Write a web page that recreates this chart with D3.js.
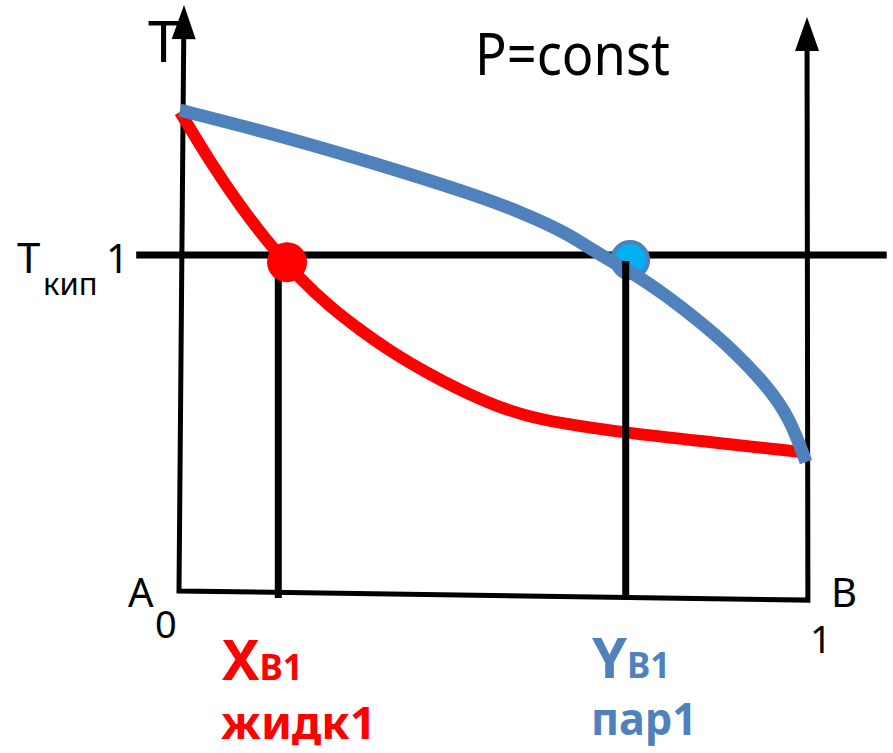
<!DOCTYPE html>
<html>
<head>
<meta charset="utf-8">
<script src="https://cdn.jsdelivr.net/npm/d3@7"></script>
<style>
  body { margin: 0; background: #fff; }
  text { font-family: "Noto Sans", "Open Sans", sans-serif; }
</style>
</head>
<body>
<svg width="893" height="753"></svg>
<script>
// mole fraction of B (0..1) vs temperature, T_kip taken as 1
var liquidCurve = [[0, 1.421], [0.048, 1.274], [0.096, 1.144], [0.144, 1.029], [0.192, 0.929],
                   [0.240, 0.847], [0.288, 0.779], [0.340, 0.712], [0.395, 0.653], [0.447, 0.603],
                   [0.500, 0.559], [0.554, 0.526], [0.607, 0.506], [0.703, 0.479], [0.831, 0.453],
                   [0.990, 0.421]];
var vaporCurve = [[0, 1.426], [0.144, 1.359], [0.304, 1.274], [0.463, 1.182], [0.548, 1.124],
                  [0.618, 1.065], [0.671, 1.0], [0.724, 0.947], [0.778, 0.879], [0.831, 0.803],
                  [0.883, 0.721], [0.938, 0.615], [0.974, 0.521], [1.0, 0.391]];
var liquidPoint = [0.171, 0.979];
var vaporPoint = [0.719, 0.985];
var tieX = [0.157, 0.712];
var boilT = 1;
var hLineRange = [-0.07, 1.129];
// the hand-drawn frame is slightly skewed
var axisFrame = [[0.0064, 1.735], [-0.0016, 0.012], [1.003, -0.015], [1.0016, 1.70]];

var svg = d3.select("svg");
var x = d3.scaleLinear().domain([0, 1]).range([180, 806]);
var y = d3.scaleLinear().domain([0, 1]).range([595, 255]);

var RED = "#ff0000", BLUE = "#4f81bd", LIGHT = "#00b0f0";

function arrowHead(tip, base) {
    var tx = x(tip[0]), ty = y(tip[1]);
    var bx = x(base[0]), by = y(base[1]);
    var dx = tx - bx, dy = ty - by, len = Math.sqrt(dx * dx + dy * dy);
    var ux = dx / len, uy = dy / len;
    var hx = tx - ux * 34, hy = ty - uy * 34;
    svg.append("path")
        .attr("d", "M" + tx + "," + ty + "L" + (hx - uy * 12) + "," + (hy + ux * 12) +
                   "L" + (hx + uy * 12) + "," + (hy - ux * 12) + "Z")
        .style("fill", "#000");
    return [hx + ux * 2, hy + uy * 2];
}

// axes
var leftBase = arrowHead(axisFrame[0], axisFrame[1]);
var rightBase = arrowHead(axisFrame[3], axisFrame[2]);
svg.append("path")
    .attr("d", "M" + leftBase[0] + "," + leftBase[1] +
               "L" + x(axisFrame[1][0]) + "," + y(axisFrame[1][1]) +
               "L" + x(axisFrame[2][0]) + "," + y(axisFrame[2][1]) +
               "L" + rightBase[0] + "," + rightBase[1])
    .style("fill", "none").style("stroke", "#000").style("stroke-width", 5)
    .style("stroke-linejoin", "miter");

// boiling temperature line
svg.append("line")
    .attr("x1", x(hLineRange[0])).attr("x2", x(hLineRange[1]))
    .attr("y1", y(boilT)).attr("y2", y(boilT))
    .style("stroke", "#000").style("stroke-width", 7);

var line = d3.line()
    .x(function (d) { return x(d[0]); })
    .y(function (d) { return y(d[1]); })
    .curve(d3.curveBasis);

svg.append("path").datum(liquidCurve).attr("d", line)
    .style("fill", "none").style("stroke", RED).style("stroke-width", 12);

svg.append("circle")
    .attr("cx", x(vaporPoint[0])).attr("cy", y(vaporPoint[1])).attr("r", 18)
    .style("fill", LIGHT).style("stroke", BLUE).style("stroke-width", 4);

svg.append("path").datum(vaporCurve).attr("d", line)
    .style("fill", "none").style("stroke", BLUE).style("stroke-width", 13);

// drop lines to the composition axis
svg.selectAll(".tie").data(tieX).enter().append("line")
    .attr("class", "tie")
    .attr("x1", function (d) { return x(d); }).attr("x2", function (d) { return x(d); })
    .attr("y1", y(boilT) + 6).attr("y2", y(-0.009))
    .style("stroke", "#000").style("stroke-width", 7);

svg.append("circle")
    .attr("cx", x(liquidPoint[0])).attr("cy", y(liquidPoint[1])).attr("r", 20)
    .style("fill", RED);

// labels
function label(tx, ty, size, str, color, weight) {
    return svg.append("text").attr("x", tx).attr("y", ty)
        .style("font-size", size + "px").style("fill", color || "#000")
        .style("font-weight", weight || "normal").text(str);
}

label(148, 62, 56, "T");
label(475, 75, 58, "P=const").attr("textLength", 195).attr("lengthAdjust", "spacingAndGlyphs");

label(17, 273, 42, "T");
label(43, 295, 31, "кип");
label(106, 273, 40, "1");

label(128, 607, 40, "A");
label(x(0) - 25, 638, 38, "0");
label(831, 607, 40, "B");
label(x(1) + 4, 653, 38, "1");

var xb = label(222, 680, 56, "X", RED, "bold");
xb.append("tspan").style("font-size", "35px").text("В1");
label(221, 739, 44, "жидк1", RED, "bold").attr("textLength", 155).attr("lengthAdjust", "spacingAndGlyphs");

var yb = label(592, 678, 56, "Y", BLUE, "bold");
yb.append("tspan").style("font-size", "35px").text("В1");
label(591, 735, 44, "пар1", BLUE, "bold").attr("textLength", 106).attr("lengthAdjust", "spacingAndGlyphs");
</script>
</body>
</html>
